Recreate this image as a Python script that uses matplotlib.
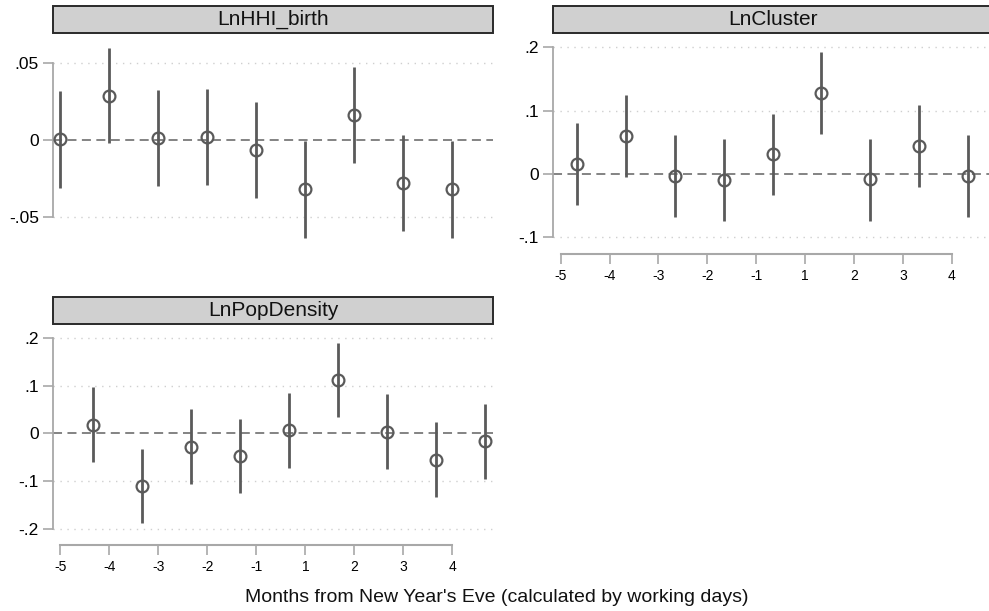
import numpy as np
import matplotlib
matplotlib.use("Agg")
import matplotlib.pyplot as plt
from matplotlib.patches import Rectangle

plt.rcParams['font.family'] = ['Liberation Sans', 'DejaVu Sans']

W, H = 989, 611

# tick labels for the months (no 0)
month_labels = ["-5", "-4", "-3", "-2", "-1", "1", "2", "3", "4"]

# LnHHI_birth
hhi_coef = [0.0006, 0.029, 0.0017, 0.0024, -0.0063, -0.0318, 0.0162, -0.0277, -0.0318]
hhi_lo = [-0.0308, -0.002, -0.0297, -0.029, -0.0377, -0.0632, -0.015, -0.0591, -0.0632]
hhi_hi = [0.032, 0.0601, 0.0329, 0.0335, 0.0249, -0.0005, 0.0474, 0.0034, -0.0005]

# LnCluster
clu_coef = [0.0158, 0.0599, -0.0026, -0.0095, 0.031, 0.1272, -0.0084, 0.0447, -0.0026]
clu_lo = [-0.0489, -0.0042, -0.0678, -0.0741, -0.0336, 0.0625, -0.0736, -0.020, -0.0673]
clu_hi = [0.080, 0.124, 0.0615, 0.0547, 0.0951, 0.1918, 0.0557, 0.1088, 0.062]

# LnPopDensity
pop_coef = [0.0182, -0.1098, -0.028, -0.0476, 0.0063, 0.1119, 0.0035, -0.0552, -0.0168]
pop_lo = [-0.0601, -0.1881, -0.1063, -0.1259, -0.072, 0.0336, -0.0748, -0.1336, -0.0951]
pop_hi = [0.0965, -0.0322, 0.0503, 0.0308, 0.0846, 0.1902, 0.0818, 0.0231, 0.0608]

hhi_ticks = [-0.05, 0, 0.05]
hhi_ticklabels = ["-.05", "0", ".05"]
clu_ticks = [-0.1, 0, 0.1, 0.2]
clu_ticklabels = ["-.1", "0", ".1", ".2"]
pop_ticks = [-0.2, -0.1, 0, 0.1, 0.2]
pop_ticklabels = ["-.2", "-.1", "0", ".1", ".2"]

dark = "#5a5a5a"
axis_gray = "#a8a8a8"


def px_rect(x0, y0, x1, y1):
    return [x0 / W, 1 - y1 / H, (x1 - x0) / W, (y1 - y0) / H]


def header(fig, x0, y0, x1, y1, title, text_x=None):
    r = Rectangle((x0 / W, 1 - y1 / H), (x1 - x0) / W, (y1 - y0) / H,
                  transform=fig.transFigure, facecolor="#d0d0d0",
                  edgecolor="#2a2a2a", linewidth=1.4, clip_on=False)
    fig.patches.append(r)
    if text_x is None:
        text_x = (x0 + x1) / 2
    fig.text(text_x / W, 1 - (y0 + y1) / 2 / H, title, ha="center", va="center",
             fontsize=15, color="#111111")


def panel(fig, rect, coef, lo, hi, offset, ylim, yticks, yticklabels, xlim, show_x):
    ax = fig.add_axes(rect)
    x = np.arange(len(coef)) + offset
    for t in yticks:
        if t != 0:
            ax.axhline(t, color="#cfcfcf", lw=1.0, ls=(0, (1, 4)), zorder=0)
    ax.axhline(0, color="#7a7a7a", lw=1.3, ls=(0, (5, 3)), zorder=1)
    ax.vlines(x, lo, hi, color=dark, lw=2.0, zorder=2)
    ax.plot(x, coef, "o", ms=8.5, mfc="none", mec=dark, mew=1.6, zorder=3)
    ax.set_xlim(*xlim)
    ax.set_ylim(*ylim)
    ax.set_yticks(yticks)
    ax.set_yticklabels(yticklabels, fontsize=12.5)
    ax.tick_params(axis="y", length=7, width=1.2, color=axis_gray, pad=3)
    ax.spines["left"].set_color(axis_gray)
    ax.spines["left"].set_linewidth(1.3)
    ax.spines["left"].set_bounds(yticks[0], yticks[-1])
    ax.spines["top"].set_visible(False)
    ax.spines["right"].set_visible(False)
    if show_x:
        ax.set_xticks(np.arange(len(month_labels)))
        ax.set_xticklabels(month_labels, fontsize=9)
        ax.spines["bottom"].set_position(("outward", 7))
        ax.spines["bottom"].set_bounds(0, len(month_labels) - 1)
        ax.spines["bottom"].set_color(axis_gray)
        ax.spines["bottom"].set_linewidth(1.5)
        ax.tick_params(axis="x", length=7, width=1.2, color=axis_gray, pad=4)
    else:
        ax.spines["bottom"].set_visible(False)
        ax.set_xticks([])
    ax.patch.set_alpha(0)
    return ax


fig = plt.figure(figsize=(W / 100, H / 100), dpi=100)
fig.patch.set_facecolor("white")

# top left
header(fig, 53, 6, 493, 33, "LnHHI_birth")
panel(fig, px_rect(52.7, 38, 493, 245), hhi_coef, hhi_lo, hhi_hi, 0,
      (-0.068, 0.0664), hhi_ticks, hhi_ticklabels, (-0.155, 8.83), False)

# top right (cut at image edge)
header(fig, 553, 6, 1000, 33, "LnCluster", text_x=773)
panel(fig, px_rect(552.7, 38, 989, 244), clu_coef, clu_lo, clu_hi, 1 / 3,
      (-0.1104, 0.2144), clu_ticks, clu_ticklabels, (-0.164, 8.76), True)

# bottom left
header(fig, 53, 297, 493, 324, "LnPopDensity")
panel(fig, px_rect(52.7, 328, 493, 535), pop_coef, pop_lo, pop_hi, 2 / 3,
      (-0.2133, 0.221), pop_ticks, pop_ticklabels, (-0.155, 8.83), True)

fig.text(497 / W, 1 - 597 / H, "Months from New Year's Eve (calculated by working days)",
         ha="center", va="center", fontsize=14, color="#111111")

fig.savefig("out.png", dpi=100)
